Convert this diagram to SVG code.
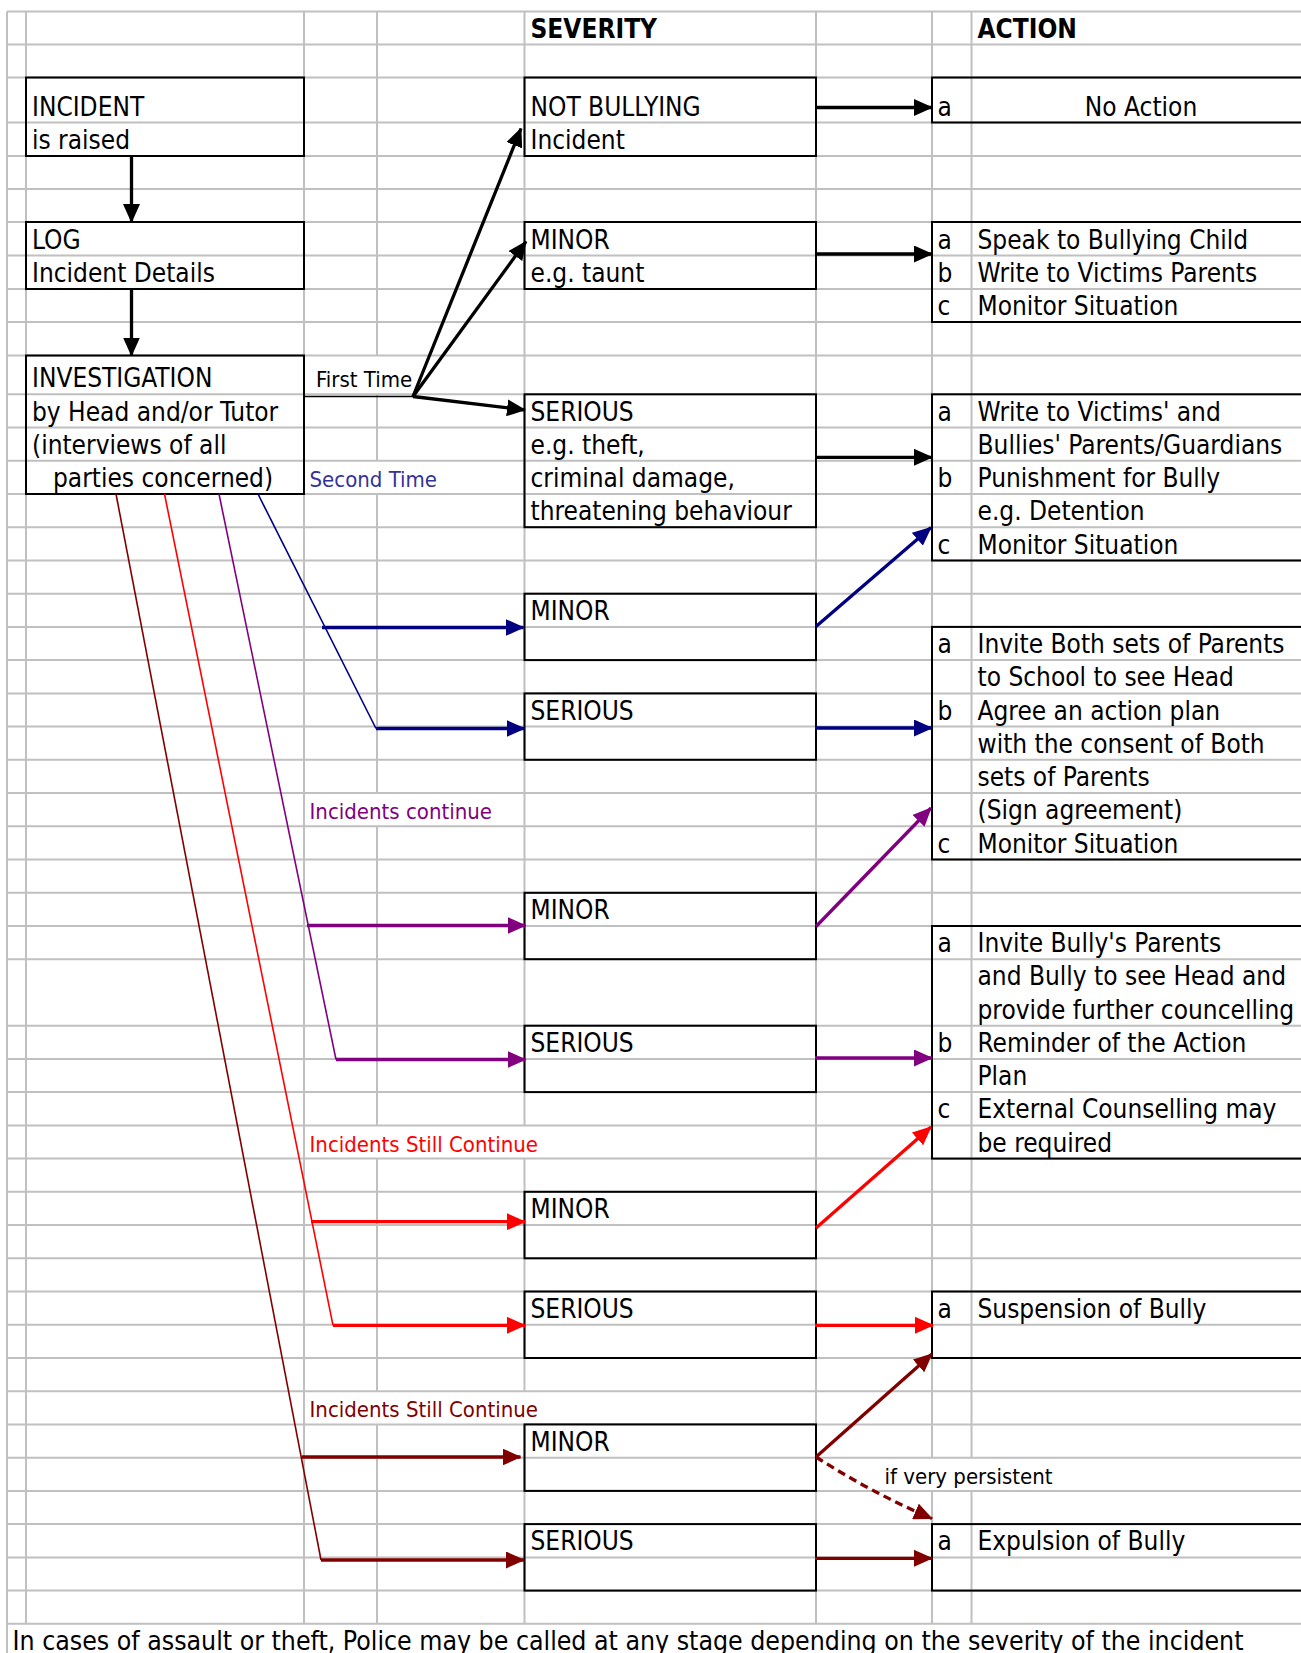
<svg xmlns="http://www.w3.org/2000/svg" width="1301" height="1653" viewBox="0 0 1301 1653">
<style>
text { font-family: "DejaVu Sans Condensed", "DejaVu Sans", sans-serif; font-stretch: condensed; font-size: 26px; fill: #000; }
.sm { font-size: 22px; }
.hd { font-weight: bold; }
.mid { text-anchor: middle; }
.grid { stroke: #c0c0c0; stroke-width: 2; fill: none; }
.box { fill: none; stroke: #000; stroke-width: 2; }
.thick { stroke-width: 3.3; fill: none; }
.thin { stroke-width: 1.6; fill: none; }
.k { stroke: #000; }
.nv { stroke: #000080; }
.pu { stroke: #800080; }
.rd { stroke: #ff0000; }
.dr { stroke: #800000; }
</style>
<defs>
<marker id="ak" markerUnits="userSpaceOnUse" markerWidth="19" markerHeight="17" refX="18" refY="8.5" orient="auto"><path d="M0,0 L19,8.5 L0,17 Z" fill="#000"/></marker>
<marker id="anv" markerUnits="userSpaceOnUse" markerWidth="19" markerHeight="17" refX="18" refY="8.5" orient="auto"><path d="M0,0 L19,8.5 L0,17 Z" fill="#000080"/></marker>
<marker id="apu" markerUnits="userSpaceOnUse" markerWidth="19" markerHeight="17" refX="18" refY="8.5" orient="auto"><path d="M0,0 L19,8.5 L0,17 Z" fill="#800080"/></marker>
<marker id="ard" markerUnits="userSpaceOnUse" markerWidth="19" markerHeight="17" refX="18" refY="8.5" orient="auto"><path d="M0,0 L19,8.5 L0,17 Z" fill="#ff0000"/></marker>
<marker id="adr" markerUnits="userSpaceOnUse" markerWidth="19" markerHeight="17" refX="18" refY="8.5" orient="auto"><path d="M0,0 L19,8.5 L0,17 Z" fill="#800000"/></marker>
</defs>
<rect x="0" y="0" width="1301" height="1653" fill="#fff"/>
<g id="grid">
<path class="grid" d="M7 11.5H1301M7 44.5H1301M7 77.5H1301M7 122.5H1301M7 156H1301M7 189H1301M7 222H1301M7 255.5H1301M7 289H1301M7 322H1301M7 355.5H1301M7 394.3H1301M7 427.5H1301M7 460.8H1301M7 494H1301M7 527.2H1301M7 560.5H1301M7 593.7H1301M7 626.9H1301M7 660.1H1301M7 693.4H1301M7 726.6H1301M7 759.8H1301M7 793.1H1301M7 826.3H1301M7 859.5H1301M7 892.8H1301M7 926H1301M7 959.2H1301M7 1025.7H1301M7 1058.9H1301M7 1092.1H1301M7 1125.4H1301M7 1158.6H1301M7 1191.8H1301M7 1225.1H1301M7 1258.3H1301M7 1291.5H1301M7 1324.7H1301M7 1358H1301M7 1391.2H1301M7 1424.4H1301M7 1457.7H1301M7 1490.9H1301M7 1524.1H1301M7 1557.4H1301M7 1590.6H1301M7 1623.8H1301"/>
<path class="grid" d="M7 11.5V1653M26 11.5V1623.8M304 11.5V1623.8M377 11.5V355.5M377 394.3V460.8M377 494V793.1M377 826.3V1125.4M377 1158.6V1391.2M377 1424.4V1623.8M524.5 11.5V1125.4M524.5 1158.6V1391.2M524.5 1424.4V1623.8M816 11.5V1623.8M932 11.5V1457.7M932 1490.9V1623.8M971.5 11.5V1457.7M971.5 1490.9V1623.8"/>
</g>
<g id="headers">
<text class="hd" x="530.5" y="37.5">SEVERITY</text>
<text class="hd" x="977.5" y="37.5">ACTION</text>
</g>
<g id="incident">
<rect class="box" x="26" y="77.5" width="278" height="78.5"/>
<text x="32" y="115.5">INCIDENT</text>
<text x="32" y="149">is raised</text>
</g>
<g id="log">
<rect class="box" x="26" y="222" width="278" height="67"/>
<text x="32" y="248.5">LOG</text>
<text x="32" y="282">Incident Details</text>
</g>
<g id="investigation">
<rect class="box" x="26" y="355.5" width="278" height="138.5"/>
<text x="32" y="387.3">INVESTIGATION</text>
<text x="32" y="420.5">by Head and/or Tutor</text>
<text x="32" y="453.8">(interviews of all</text>
<text x="53" y="487">parties concerned)</text>
</g>
<g id="sev-not-bullying">
<rect class="box" x="524.5" y="77.5" width="291.5" height="78.5"/>
<text x="530.5" y="115.5">NOT BULLYING</text>
<text x="530.5" y="149">Incident</text>
</g>
<g id="sev-minor-1">
<rect class="box" x="524.5" y="222" width="291.5" height="67"/>
<text x="530.5" y="248.5">MINOR</text>
<text x="530.5" y="282">e.g. taunt</text>
</g>
<g id="sev-serious-1">
<rect class="box" x="524.5" y="394.3" width="291.5" height="132.9"/>
<text x="530.5" y="420.5">SERIOUS</text>
<text x="530.5" y="453.8">e.g. theft,</text>
<text x="530.5" y="487">criminal damage,</text>
<text x="530.5" y="520.2">threatening behaviour</text>
</g>
<g id="sev-minor-2">
<rect class="box" x="524.5" y="593.7" width="291.5" height="66.4"/>
<text x="530.5" y="619.9">MINOR</text>
</g>
<g id="sev-serious-2">
<rect class="box" x="524.5" y="693.4" width="291.5" height="66.4"/>
<text x="530.5" y="719.6">SERIOUS</text>
</g>
<g id="sev-minor-3">
<rect class="box" x="524.5" y="892.8" width="291.5" height="66.4"/>
<text x="530.5" y="919">MINOR</text>
</g>
<g id="sev-serious-3">
<rect class="box" x="524.5" y="1025.7" width="291.5" height="66.4"/>
<text x="530.5" y="1051.9">SERIOUS</text>
</g>
<g id="sev-minor-4">
<rect class="box" x="524.5" y="1191.8" width="291.5" height="66.5"/>
<text x="530.5" y="1218.1">MINOR</text>
</g>
<g id="sev-serious-4">
<rect class="box" x="524.5" y="1291.5" width="291.5" height="66.5"/>
<text x="530.5" y="1317.7">SERIOUS</text>
</g>
<g id="sev-minor-5">
<rect class="box" x="524.5" y="1424.4" width="291.5" height="66.5"/>
<text x="530.5" y="1450.7">MINOR</text>
</g>
<g id="sev-serious-5">
<rect class="box" x="524.5" y="1524.1" width="291.5" height="66.5"/>
<text x="530.5" y="1550.4">SERIOUS</text>
</g>
<g id="action-1">
<rect class="box" x="932" y="77.5" width="400" height="45"/>
<text x="937.5" y="115.5">a</text>
<text class="mid" x="1141" y="115.5">No Action</text>
</g>
<g id="action-2">
<rect class="box" x="932" y="222" width="400" height="100"/>
<text x="937.5" y="248.5">a</text><text x="977.5" y="248.5">Speak to Bullying Child</text>
<text x="937.5" y="282">b</text><text x="977.5" y="282">Write to Victims Parents</text>
<text x="937.5" y="315">c</text><text x="977.5" y="315">Monitor Situation</text>
</g>
<g id="action-3">
<rect class="box" x="932" y="394.3" width="400" height="166.2"/>
<text x="937.5" y="420.5">a</text><text x="977.5" y="420.5">Write to Victims' and</text>
<text x="977.5" y="453.8">Bullies' Parents/Guardians</text>
<text x="937.5" y="487">b</text><text x="977.5" y="487">Punishment for Bully</text>
<text x="977.5" y="520.2">e.g. Detention</text>
<text x="937.5" y="553.5">c</text><text x="977.5" y="553.5">Monitor Situation</text>
</g>
<g id="action-4">
<rect class="box" x="932" y="626.9" width="400" height="232.6"/>
<text x="937.5" y="653.1">a</text><text x="977.5" y="653.1">Invite Both sets of Parents</text>
<text x="977.5" y="686.4">to School to see Head</text>
<text x="937.5" y="719.6">b</text><text x="977.5" y="719.6">Agree an action plan</text>
<text x="977.5" y="752.8">with the consent of Both</text>
<text x="977.5" y="786.1">sets of Parents</text>
<text x="977.5" y="819.3">(Sign agreement)</text>
<text x="937.5" y="852.5">c</text><text x="977.5" y="852.5">Monitor Situation</text>
</g>
<g id="action-5">
<rect class="box" x="932" y="926" width="400" height="232.6"/>
<text x="937.5" y="952.2">a</text><text x="977.5" y="952.2">Invite Bully's Parents</text>
<text x="977.5" y="985.4">and Bully to see Head and</text>
<text x="977.5" y="1018.7">provide further councelling</text>
<text x="937.5" y="1051.9">b</text><text x="977.5" y="1051.9">Reminder of the Action</text>
<text x="977.5" y="1085.1">Plan</text>
<text x="937.5" y="1118.4">c</text><text x="977.5" y="1118.4">External Counselling may</text>
<text x="977.5" y="1151.6">be required</text>
</g>
<g id="action-6">
<rect class="box" x="932" y="1291.5" width="400" height="66.5"/>
<text x="937.5" y="1317.7">a</text><text x="977.5" y="1317.7">Suspension of Bully</text>
</g>
<g id="action-7">
<rect class="box" x="932" y="1524.1" width="400" height="66.5"/>
<text x="937.5" y="1550.4">a</text><text x="977.5" y="1550.4">Expulsion of Bully</text>
</g>
<g id="connectors">
<path class="thick k" d="M131.5 156V222" marker-end="url(#ak)"/>
<path class="thick k" d="M131.5 289V355.5" marker-end="url(#ak)"/>
<path class="thick k" d="M815 107.5H932" marker-end="url(#ak)"/>
<path class="thick k" d="M815 254H932" marker-end="url(#ak)"/>
<path class="thick k" d="M815 457.3H932" marker-end="url(#ak)"/>
<path class="thin k" d="M304 396.5H413"/>
<path class="thick k" d="M413 396.5L521 128.5" marker-end="url(#ak)"/>
<path class="thick k" d="M413 396.5L526 241.5" marker-end="url(#ak)"/>
<path class="thick k" d="M413 396.5L525 410" marker-end="url(#ak)"/>
<path class="thin nv" d="M258 494L376 728.5"/>
<path class="thick nv" d="M376 728.5H524.5" marker-end="url(#anv)"/>
<path class="thick nv" d="M322 627.5H523.5" marker-end="url(#anv)"/>
<path class="thick nv" d="M816 626.5L931 527.5" marker-end="url(#anv)"/>
<path class="thick nv" d="M815 728H932" marker-end="url(#anv)"/>
<path class="thin pu" d="M219 494L336 1059.5"/>
<path class="thick pu" d="M336 1059.5H525.5" marker-end="url(#apu)"/>
<path class="thick pu" d="M307 925.5H525.5" marker-end="url(#apu)"/>
<path class="thick pu" d="M816 926.5L931 808" marker-end="url(#apu)"/>
<path class="thick pu" d="M815 1058H932" marker-end="url(#apu)"/>
<path class="thin rd" d="M164.5 494L333 1325.3"/>
<path class="thick rd" d="M333 1325.3H525" marker-end="url(#ard)"/>
<path class="thick rd" d="M311 1221.7H525" marker-end="url(#ard)"/>
<path class="thick rd" d="M816 1228L931 1127" marker-end="url(#ard)"/>
<path class="thick rd" d="M815 1325.3H933" marker-end="url(#ard)"/>
<path class="thin dr" d="M116 494L321 1560"/>
<path class="thick dr" d="M321 1560H524" marker-end="url(#adr)"/>
<path class="thick dr" d="M302 1457H520.5" marker-end="url(#adr)"/>
<path class="thick dr" d="M816 1457L932 1354" marker-end="url(#adr)"/>
<path class="thick dr" d="M816 1457Q872 1493 932 1518.5" stroke-dasharray="8 5" marker-end="url(#adr)"/>
<path class="thick dr" d="M815 1558.3H932" marker-end="url(#adr)"/>
</g>
<g id="labels">
<text class="sm" x="316" y="386.7">First Time</text>
<text class="sm" x="309.5" y="487" style="fill:#333399">Second Time</text>
<text class="sm" x="309.5" y="819.3" style="fill:#800080">Incidents continue</text>
<text class="sm" x="309.5" y="1151.6" style="fill:#ff0000">Incidents Still Continue</text>
<text class="sm" x="309.5" y="1417.4" style="fill:#800000">Incidents Still Continue</text>
<text class="sm" x="884.6" y="1483.9">if very persistent</text>
<text x="12.5" y="1650" textLength="1231" lengthAdjust="spacingAndGlyphs">In cases of assault or theft, Police may be called at any stage depending on the severity of the incident</text>
</g>
</svg>
